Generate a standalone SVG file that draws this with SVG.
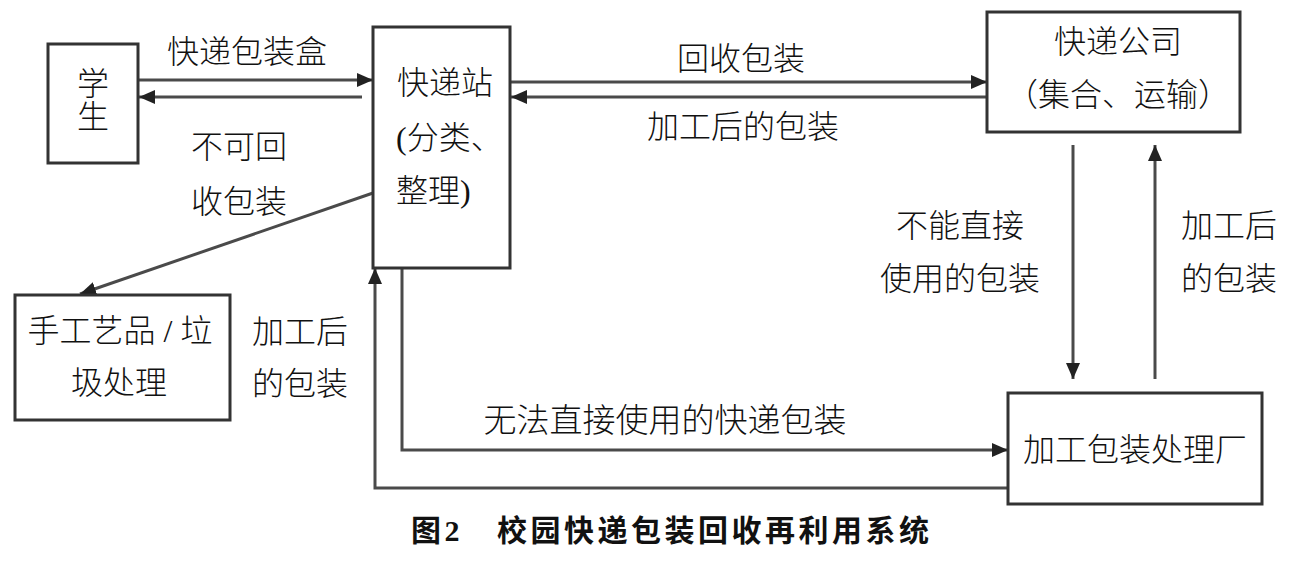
<svg xmlns="http://www.w3.org/2000/svg" width="1296" height="562" viewBox="0 0 1296 562">
<style>
.box{fill:#fff;stroke:#333;stroke-width:3}
.ln{fill:none;stroke:#4a4a4a;stroke-width:3}
text{font-family:"Liberation Serif","Noto Sans CJK SC",serif;font-size:32px;font-weight:300;fill:#111;dominant-baseline:central}
.c{text-anchor:middle}
.cap{font-family:"Liberation Serif","Noto Sans CJK SC",sans-serif;font-weight:bold;font-size:30px;letter-spacing:3.5px}
</style>
<defs>
<marker id="ah" markerUnits="userSpaceOnUse" markerWidth="16" markerHeight="14" refX="16" refY="7" orient="auto">
<path d="M0,0 L16,7 L0,14 z" fill="#222"/>
</marker>
</defs>
<rect width="1296" height="562" fill="#fff"/>
<g id="connectors">
<line class="ln" x1="138" y1="80" x2="373" y2="80" marker-end="url(#ah)"/>
<line class="ln" x1="362" y1="97" x2="139" y2="97" marker-end="url(#ah)"/>
<line class="ln" x1="373" y1="193" x2="80" y2="294" marker-end="url(#ah)"/>
<line class="ln" x1="510" y1="82" x2="987" y2="82" marker-end="url(#ah)"/>
<line class="ln" x1="987" y1="97" x2="511" y2="97" marker-end="url(#ah)"/>
<line class="ln" x1="1073" y1="145" x2="1073" y2="379" marker-end="url(#ah)"/>
<line class="ln" x1="1155" y1="379" x2="1155" y2="145" marker-end="url(#ah)"/>
<path class="ln" d="M402,268 V450 H1008" marker-end="url(#ah)"/>
<path class="ln" d="M1008,488 H375 V268" marker-end="url(#ah)"/>
</g>
<g id="student">
<rect class="box" x="48" y="44" width="90" height="119"/>
<text class="c" x="93" y="84">学</text>
<text class="c" x="93" y="117">生</text>
</g>
<g id="station">
<rect class="box" x="373" y="27" width="137" height="241"/>
<text x="397" y="83">快递站</text>
<text x="396" y="138">(分类、</text>
<text x="396" y="191">整理)</text>
</g>
<g id="company">
<rect class="box" x="987" y="12" width="253" height="120"/>
<text class="c" x="1118" y="42">快递公司</text>
<text class="c" x="1118" y="95">（集合、运输）</text>
</g>
<g id="craft">
<rect class="box" x="15" y="295" width="215" height="125"/>
<text class="c" x="120" y="331">手工艺品 / 垃</text>
<text class="c" x="119" y="383">圾处理</text>
</g>
<g id="factory">
<rect class="box" x="1008" y="393" width="254" height="111"/>
<text class="c" x="1135" y="450">加工包装处理厂</text>
</g>
<g id="labels">
<text class="c" x="247" y="52">快递包装盒</text>
<text class="c" x="239" y="147">不可回</text>
<text class="c" x="239" y="202">收包装</text>
<text class="c" x="300" y="332">加工后</text>
<text class="c" x="300" y="384">的包装</text>
<text class="c" x="741" y="59">回收包装</text>
<text class="c" x="743" y="127">加工后的包装</text>
<text class="c" x="960" y="226">不能直接</text>
<text class="c" x="960" y="279">使用的包装</text>
<text class="c" x="1229" y="226">加工后</text>
<text class="c" x="1229" y="279">的包装</text>
<text class="c" x="665" y="421" style="font-size:33px">无法直接使用的快递包装</text>
</g>
<g id="caption">
<text class="cap" x="411" y="530">图2</text>
<text class="cap" x="497" y="530">校园快递包装回收再利用系统</text>
</g>
</svg>
